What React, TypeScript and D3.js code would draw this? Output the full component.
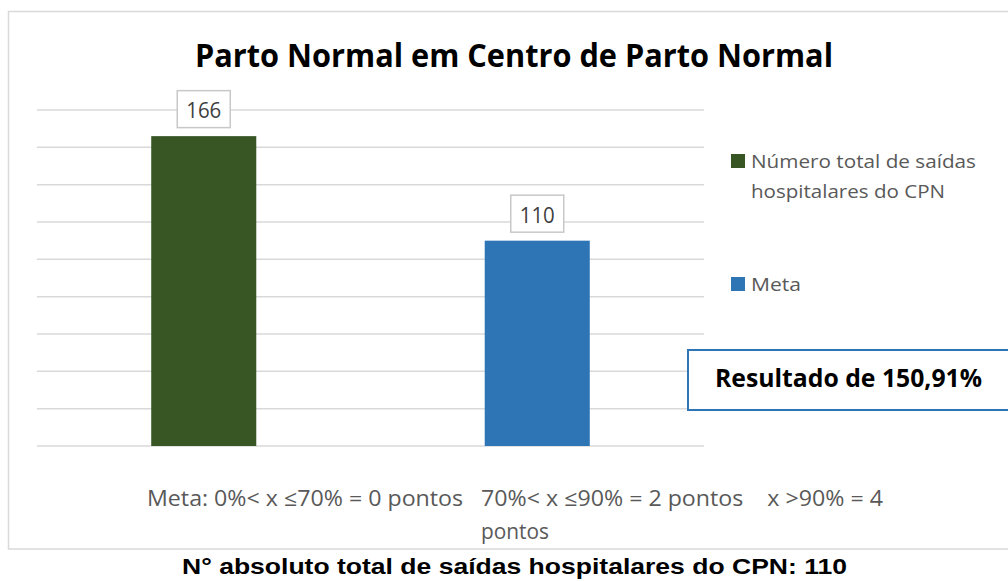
import React from "react";
import * as d3 from "d3";

const categories = ["Número total de saídas hospitalares do CPN", "Meta"];
const values = [166, 110];
const colors = ["#375623", "#2E75B6"];
const yTicks = [0, 20, 40, 60, 80, 100, 120, 140, 160, 180];
const legendLines = [["Número total de saídas", "hospitalares do CPN"], ["Meta"]];
const legendWidths = [[225, 194], [50]];
const title = "Parto Normal em Centro de Parto Normal";
const resultText = "Resultado de 150,91%";
const metaLine1 = "Meta: 0%< x ≤70% = 0 pontos   70%< x ≤90% = 2 pontos    x >90% = 4";
const metaLine2 = "pontos";
const footnote = "N° absoluto total de saídas hospitalares do CPN: 110";

const FONT = "'Open Sans', sans-serif";

export default function App() {
  const y = d3.scaleLinear().domain([0, 180]).range([446, 110]);
  const x = d3.scaleBand<string>().domain(categories).range([37, 704]).paddingInner(0.685).paddingOuter(0.3425);
  const bw = x.bandwidth();
  return (
    <svg width={1008} height={581} style={{ position: "absolute", left: 0, top: 0, background: "#fff" }}>
      <rect x={8.5} y={11.5} width={1010} height={537.5} fill="#fff" stroke="#d9d9d9" strokeWidth={1.5} />
      <text x={514} y={67} textAnchor="middle" fontFamily={FONT} fontWeight={700} fontSize={32} fill="#000" textLength={638} lengthAdjust="spacingAndGlyphs">{title}</text>
      {yTicks.map((t) => (
        <line key={t} x1={37} x2={704} y1={y(t)} y2={y(t)} stroke="#d9d9d9" strokeWidth={1.5} />
      ))}
      {categories.map((c, i) => {
        const bx = x(c)!;
        const by = y(values[i]);
        const cx = bx + bw / 2;
        return (
          <g key={c}>
            <rect x={bx} y={by} width={bw} height={y(0) - by} fill={colors[i]} />
            <rect x={cx - 26.5} y={by - 45.5} width={53} height={37} fill="#fff" stroke="#c8c8c8" strokeWidth={1.5} />
            <text x={cx} y={by - 18} textAnchor="middle" fontFamily={FONT} fontSize={21} fill="#404040" textLength={35} lengthAdjust="spacingAndGlyphs">{values[i]}</text>
          </g>
        );
      })}
      {legendLines.map((lines, i) => {
        const top = i === 0 ? 154 : 277;
        return (
          <g key={i}>
            <rect x={731} y={top} width={14} height={14} fill={colors[i]} />
            {lines.map((l, j) => (
              <text key={j} x={751} y={top + 13.5 + j * 30} fontFamily={FONT} fontSize={19} fill="#595959" textLength={legendWidths[i][j]} lengthAdjust="spacingAndGlyphs">{l}</text>
            ))}
          </g>
        );
      })}
      <rect x={688} y={350} width={330} height={60} fill="#fff" stroke="#2E75B6" strokeWidth={2} />
      <text x={848.5} y={387} textAnchor="middle" fontFamily={FONT} fontWeight={700} fontSize={25} fill="#000" textLength={267} lengthAdjust="spacingAndGlyphs">{resultText}</text>
      <text x={515} y={506} textAnchor="middle" fontFamily={FONT} fontSize={22} fill="#595959" textLength={736} lengthAdjust="spacingAndGlyphs" style={{ whiteSpace: "pre" }}>{metaLine1}</text>
      <text x={515} y={539} textAnchor="middle" fontFamily={FONT} fontSize={22} fill="#595959" textLength={68} lengthAdjust="spacingAndGlyphs">{metaLine2}</text>
      <text x={514.5} y={574} textAnchor="middle" fontFamily="'Liberation Sans', Arial, sans-serif" fontWeight={700} fontSize={22} fill="#000" textLength={665} lengthAdjust="spacingAndGlyphs">{footnote}</text>
    </svg>
  );
}
